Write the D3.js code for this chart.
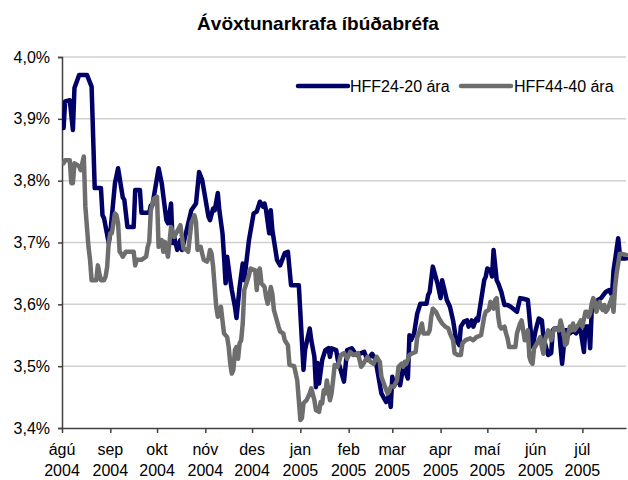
<!DOCTYPE html>
<html>
<head>
<meta charset="utf-8">
<script src="https://cdn.jsdelivr.net/npm/d3@7"></script>
<style>
  html, body { margin: 0; padding: 0; background: #fff; }
  svg { display: block; font-family: Arial, "Liberation Sans", sans-serif; }
</style>
</head>
<body>
<svg id="chart" width="628" height="480"></svg>
<script>
const chartTitle = "Ávöxtunarkrafa íbúðabréfa";
const seriesNames = ["HFF24-20 ára", "HFF44-40 ára"];
const monthLabels = ["ágú","sep","okt","nóv","des","jan","feb","mar","apr","maí","jún","júl"];
const yearLabels = ["2004","2004","2004","2004","2004","2005","2005","2005","2005","2005","2005","2005"];
const yTicks = [3.4, 3.5, 3.6, 3.7, 3.8, 3.9, 4.0];
const dateDomain = ["2004-08-01", "2005-07-29"];

const hff24Dates = ["2004-08-02","2004-08-03","2004-08-06","2004-08-08","2004-08-09","2004-08-12","2004-08-17","2004-08-20","2004-08-22","2004-08-26","2004-08-27","2004-08-28","2004-08-31",
"2004-09-01","2004-09-04","2004-09-06","2004-09-09","2004-09-10","2004-09-12","2004-09-16","2004-09-17","2004-09-20","2004-09-21","2004-09-26","2004-09-27","2004-09-28",
"2004-10-02","2004-10-04","2004-10-07","2004-10-08","2004-10-10","2004-10-11","2004-10-12","2004-10-14","2004-10-16","2004-10-17","2004-10-23","2004-10-26","2004-10-28","2004-10-30",
"2004-11-03","2004-11-04","2004-11-06","2004-11-07","2004-11-09","2004-11-10","2004-11-12","2004-11-13","2004-11-14","2004-11-15","2004-11-17","2004-11-18","2004-11-20","2004-11-21","2004-11-23","2004-11-25","2004-11-26","2004-11-27","2004-11-29",
"2004-12-02","2004-12-04","2004-12-06","2004-12-08","2004-12-09","2004-12-10","2004-12-12","2004-12-13","2004-12-14","2004-12-17","2004-12-19","2004-12-22","2004-12-24","2004-12-26","2004-12-31",
"2005-01-03","2005-01-04","2005-01-07","2005-01-08","2005-01-10","2005-01-11","2005-01-12","2005-01-13","2005-01-15","2005-01-17","2005-01-19","2005-01-20","2005-01-21","2005-01-24","2005-01-25","2005-01-29","2005-01-31",
"2005-02-03","2005-02-06","2005-02-11","2005-02-13","2005-02-16","2005-02-18","2005-02-19","2005-02-22","2005-02-25","2005-02-27","2005-02-28",
"2005-03-01","2005-03-02","2005-03-05","2005-03-06","2005-03-08","2005-03-09","2005-03-11","2005-03-12","2005-03-13","2005-03-15","2005-03-17","2005-03-19","2005-03-23","2005-03-24","2005-03-25","2005-03-27","2005-03-30",
"2005-04-01","2005-04-02","2005-04-04","2005-04-05","2005-04-07","2005-04-09","2005-04-11","2005-04-13","2005-04-14","2005-04-16","2005-04-18","2005-04-19","2005-04-21","2005-04-22","2005-04-24","2005-04-25","2005-04-29","2005-04-30",
"2005-05-01","2005-05-03","2005-05-04","2005-05-05","2005-05-07","2005-05-08","2005-05-10","2005-05-12","2005-05-14","2005-05-16","2005-05-20","2005-05-22","2005-05-24","2005-05-27","2005-05-29","2005-05-30",
"2005-06-01","2005-06-03","2005-06-05","2005-06-06","2005-06-07","2005-06-09","2005-06-11","2005-06-12","2005-06-13","2005-06-16","2005-06-17","2005-06-18","2005-06-19","2005-06-20","2005-06-22","2005-06-23","2005-06-25","2005-06-27","2005-06-29","2005-06-30",
"2005-07-02","2005-07-03","2005-07-05","2005-07-06","2005-07-07","2005-07-09","2005-07-11","2005-07-13","2005-07-16","2005-07-18","2005-07-20","2005-07-21","2005-07-22","2005-07-24","2005-07-25","2005-07-26","2005-07-29"];
const hff24Values = [3.885,3.928,3.930,3.882,3.950,3.971,3.971,3.952,3.788,3.788,3.744,3.739,3.699,
3.715,3.796,3.820,3.773,3.769,3.725,3.725,3.785,3.785,3.748,3.748,3.760,3.760,
3.820,3.796,3.736,3.731,3.763,3.699,3.709,3.688,3.704,3.688,3.752,3.763,3.814,3.801,
3.742,3.736,3.755,3.752,3.780,3.752,3.715,3.677,3.634,3.677,3.639,3.623,3.596,3.578,3.628,3.666,3.639,3.661,3.704,
3.747,3.750,3.766,3.758,3.763,3.752,3.715,3.752,3.720,3.672,3.663,3.683,3.685,3.631,3.631,
3.494,3.526,3.561,3.542,3.515,3.466,3.505,3.472,3.510,3.526,3.529,3.515,3.529,3.526,3.510,3.475,3.526,
3.529,3.518,3.523,3.510,3.520,3.512,3.499,3.456,3.442,3.453,3.434,
3.483,3.467,3.483,3.469,3.499,3.494,3.480,3.550,3.542,3.553,3.585,3.601,3.601,3.615,3.620,3.661,3.634,
3.610,3.639,3.618,3.607,3.596,3.574,3.542,3.534,3.564,3.572,3.574,3.564,3.574,3.564,3.577,3.574,3.639,3.645,
3.658,3.655,3.645,3.688,3.639,3.634,3.620,3.599,3.599,3.596,3.588,3.610,3.609,3.607,3.553,3.531,
3.558,3.577,3.574,3.547,3.537,3.518,3.521,3.558,3.561,3.561,3.531,3.504,3.531,3.558,3.558,3.553,3.558,3.553,3.564,3.556,
3.523,3.564,3.564,3.529,3.591,3.601,3.607,3.610,3.620,3.623,3.615,3.655,3.672,3.707,3.682,3.674,3.674];

const hff44Dates = ["2004-08-02","2004-08-03","2004-08-06","2004-08-07","2004-08-08","2004-08-09","2004-08-11","2004-08-12","2004-08-13","2004-08-15","2004-08-16","2004-08-17","2004-08-18","2004-08-19","2004-08-20","2004-08-23","2004-08-24","2004-08-25","2004-08-26","2004-08-28","2004-08-29","2004-08-30","2004-08-31",
"2004-09-01","2004-09-02","2004-09-04","2004-09-05","2004-09-06","2004-09-07","2004-09-08","2004-09-09","2004-09-11","2004-09-16","2004-09-17","2004-09-18","2004-09-21","2004-09-24","2004-09-25","2004-09-26","2004-09-27","2004-09-29",
"2004-10-01","2004-10-02","2004-10-04","2004-10-05","2004-10-06","2004-10-08","2004-10-09","2004-10-10","2004-10-12","2004-10-16","2004-10-17","2004-10-18","2004-10-20","2004-10-21","2004-10-23","2004-10-25","2004-10-26","2004-10-27","2004-10-29","2004-10-30","2004-10-31",
"2004-11-02","2004-11-03","2004-11-04","2004-11-05","2004-11-06","2004-11-07","2004-11-08","2004-11-09","2004-11-10","2004-11-11","2004-11-12","2004-11-13","2004-11-15","2004-11-16","2004-11-17","2004-11-18","2004-11-19","2004-11-20","2004-11-21","2004-11-22","2004-11-23","2004-11-24","2004-11-25","2004-11-26","2004-11-28","2004-11-29","2004-11-30",
"2004-12-03","2004-12-04","2004-12-05","2004-12-06","2004-12-07","2004-12-09","2004-12-10","2004-12-11","2004-12-12","2004-12-13","2004-12-14","2004-12-15","2004-12-18","2004-12-19","2004-12-21","2004-12-22","2004-12-24","2004-12-25","2004-12-28","2004-12-30","2004-12-31",
"2005-01-01","2005-01-02","2005-01-03","2005-01-05","2005-01-07","2005-01-08","2005-01-10","2005-01-11","2005-01-13","2005-01-14","2005-01-15","2005-01-16","2005-01-17","2005-01-18","2005-01-20","2005-01-21","2005-01-22","2005-01-23","2005-01-25","2005-01-27","2005-01-29","2005-01-31",
"2005-02-02","2005-02-04","2005-02-07","2005-02-09","2005-02-10","2005-02-13","2005-02-15","2005-02-17","2005-02-19","2005-02-21","2005-02-22","2005-02-24","2005-02-26","2005-02-27","2005-02-28",
"2005-03-02","2005-03-04","2005-03-05","2005-03-07","2005-03-08","2005-03-09","2005-03-10","2005-03-12","2005-03-14","2005-03-16","2005-03-17","2005-03-18","2005-03-20","2005-03-21","2005-03-24","2005-03-25","2005-03-26","2005-03-27","2005-03-29","2005-03-31",
"2005-04-02","2005-04-04","2005-04-06","2005-04-07","2005-04-09","2005-04-10","2005-04-12","2005-04-14","2005-04-15","2005-04-17","2005-04-20","2005-04-22","2005-04-24","2005-04-27","2005-04-29","2005-04-30",
"2005-05-02","2005-05-03","2005-05-05","2005-05-06","2005-05-07","2005-05-08","2005-05-09","2005-05-10","2005-05-12","2005-05-13","2005-05-14","2005-05-15","2005-05-19","2005-05-20","2005-05-22","2005-05-23","2005-05-24","2005-05-25","2005-05-26","2005-05-27","2005-05-28","2005-05-29","2005-05-30","2005-05-31",
"2005-06-02","2005-06-04","2005-06-05","2005-06-06","2005-06-07","2005-06-09","2005-06-10","2005-06-11","2005-06-12","2005-06-13","2005-06-16","2005-06-17","2005-06-19","2005-06-20","2005-06-21","2005-06-22","2005-06-23","2005-06-24","2005-06-25","2005-06-26","2005-06-29","2005-06-30",
"2005-07-01","2005-07-03","2005-07-04","2005-07-05","2005-07-06","2005-07-07","2005-07-08","2005-07-09","2005-07-10","2005-07-11","2005-07-12","2005-07-13","2005-07-14","2005-07-15","2005-07-16","2005-07-17","2005-07-19","2005-07-20","2005-07-21","2005-07-22","2005-07-23","2005-07-24","2005-07-25","2005-07-26","2005-07-29"];
const hff44Values = [3.828,3.833,3.833,3.796,3.796,3.828,3.825,3.823,3.817,3.839,3.758,3.725,3.693,3.672,3.639,3.639,3.663,3.650,3.639,3.639,3.645,3.661,3.701,
3.715,3.715,3.747,3.744,3.731,3.685,3.682,3.677,3.685,3.685,3.663,3.672,3.672,3.677,3.693,3.701,3.752,3.771,
3.774,3.693,3.704,3.685,3.701,3.677,3.701,3.725,3.709,3.728,3.709,3.690,3.688,3.685,3.731,3.744,3.733,3.688,3.693,3.682,3.672,
3.669,3.674,3.688,3.682,3.661,3.628,3.596,3.580,3.591,3.596,3.574,3.553,3.547,3.531,3.504,3.488,3.494,3.526,3.531,3.512,3.537,3.542,3.569,3.623,3.639,3.647,3.658,
3.655,3.623,3.652,3.658,3.634,3.628,3.612,3.601,3.612,3.628,3.617,3.591,3.564,3.556,3.553,3.542,3.534,3.502,3.500,3.477,3.445,
3.413,3.416,3.440,3.445,3.456,3.464,3.445,3.429,3.426,3.442,3.440,3.461,3.456,3.477,3.445,3.456,3.477,3.502,3.499,3.518,3.521,3.512,
3.523,3.518,3.521,3.499,3.502,3.515,3.507,3.504,3.515,3.507,3.483,3.469,3.456,3.459,3.467,
3.467,3.477,3.499,3.504,3.499,3.507,3.504,3.518,3.521,3.523,3.547,3.553,3.569,3.553,3.553,3.558,3.580,3.593,3.588,3.577,
3.569,3.564,3.561,3.553,3.542,3.521,3.518,3.518,3.537,3.542,3.545,3.542,3.547,3.550,3.580,3.588,
3.591,3.604,3.593,3.607,3.610,3.580,3.564,3.561,3.564,3.553,3.545,3.531,3.531,3.553,3.569,3.574,3.558,3.542,3.542,3.558,3.515,3.507,3.504,3.529,
3.537,3.547,3.531,3.520,3.542,3.558,3.553,3.542,3.553,3.561,3.558,3.574,3.553,3.534,3.537,3.553,3.564,3.558,3.569,3.558,3.569,3.574,
3.564,3.588,3.588,3.580,3.585,3.601,3.610,3.604,3.588,3.596,3.604,3.596,3.591,3.599,3.588,3.591,3.604,3.612,3.588,3.628,3.650,3.666,3.682,3.682,3.680];

const seriesColors = ["#000066", "#6e6e6e"];

const parse = d3.utcParse("%Y-%m-%d");
const svg = d3.select("#chart");

const plot = { left: 62, right: 626, top: 57, bottom: 428 };
const x = d3.scaleUtc().domain(dateDomain.map(parse)).range([plot.left, plot.right]);
const y = d3.scaleLinear().domain([3.4, 4.0]).range([plot.bottom, plot.top]);

const locale = d3.formatLocale({ decimal: ",", thousands: ".", grouping: [3], currency: ["", " kr."] });
const fmt = locale.format(".1f");

// Title
svg.append("text")
  .attr("x", 318).attr("y", 30)
  .attr("text-anchor", "middle")
  .attr("font-size", 19).attr("font-weight", "bold")
  .attr("fill", "#000")
  .text(chartTitle);

// Gridlines
svg.append("g")
  .selectAll("line")
  .data(yTicks.filter(t => t > 3.4))
  .join("line")
  .attr("x1", plot.left).attr("x2", plot.right)
  .attr("y1", d => y(d)).attr("y2", d => y(d))
  .attr("stroke", "#d0d0d0").attr("stroke-width", 1.5);

// Y axis
const yAxis = d3.axisLeft(y).tickValues(yTicks).tickSize(4).tickPadding(8).tickFormat(d => fmt(d) + "%");
const gy = svg.append("g").attr("transform", `translate(${plot.left},0)`).call(yAxis);
gy.select(".domain").attr("stroke", "#404040").attr("stroke-width", 1.5);
gy.selectAll(".tick line").attr("stroke", "#404040").attr("stroke-width", 1.5);
gy.selectAll(".tick text").attr("font-size", 16).attr("fill", "#000").attr("font-family", "Arial, 'Liberation Sans', sans-serif");

// X axis
const monthTicks = d3.utcMonth.range(parse("2004-08-01"), parse("2005-07-02"));
const xAxis = d3.axisBottom(x).tickValues(monthTicks).tickSize(5).tickSizeOuter(0).tickFormat("");
const gx = svg.append("g").attr("transform", `translate(0,${plot.bottom})`).call(xAxis);
gx.select(".domain").attr("stroke", "#404040").attr("stroke-width", 1.5);
gx.selectAll(".tick line").attr("stroke", "#404040").attr("stroke-width", 1.5);

const labels = svg.append("g")
  .selectAll("text")
  .data(monthTicks)
  .join("text")
  .attr("text-anchor", "middle")
  .attr("font-size", 16)
  .attr("fill", "#000");
labels.append("tspan").attr("x", d => x(d)).attr("y", 455).text((d, i) => monthLabels[i]);
labels.append("tspan").attr("x", d => x(d)).attr("y", 476).text((d, i) => yearLabels[i]);

// Lines
const line = d3.line().x(d => x(d.date)).y(d => y(d.value));
const series = [
  { name: seriesNames[0], color: seriesColors[0], data: hff24Dates.map((d, i) => ({ date: parse(d), value: hff24Values[i] })) },
  { name: seriesNames[1], color: seriesColors[1], data: hff44Dates.map((d, i) => ({ date: parse(d), value: hff44Values[i] })) }
];

svg.append("clipPath").attr("id", "clip").append("rect")
  .attr("x", plot.left).attr("y", plot.top - 10).attr("width", plot.right - plot.left + 2).attr("height", plot.bottom - plot.top + 10);

svg.append("g").attr("clip-path", "url(#clip)")
  .selectAll("path")
  .data(series)
  .join("path")
  .attr("d", d => line(d.data))
  .attr("fill", "none")
  .attr("stroke", d => d.color)
  .attr("stroke-width", 4.5)
  .attr("stroke-linejoin", "round")
  .attr("stroke-linecap", "round");

// Legend
const legendItems = [
  { name: seriesNames[0], color: seriesColors[0], x1: 298, x2: 348, tx: 350 },
  { name: seriesNames[1], color: seriesColors[1], x1: 461, x2: 511, tx: 514 }
];
const lg = svg.append("g");
legendItems.forEach(it => {
  lg.append("line").attr("x1", it.x1).attr("x2", it.x2).attr("y1", 86).attr("y2", 86)
    .attr("stroke", it.color).attr("stroke-width", 4.5).attr("stroke-linecap", "round");
  lg.append("text").attr("x", it.tx).attr("y", 92).attr("font-size", 16).attr("fill", "#000").text(it.name);
});
</script>
</body>
</html>
